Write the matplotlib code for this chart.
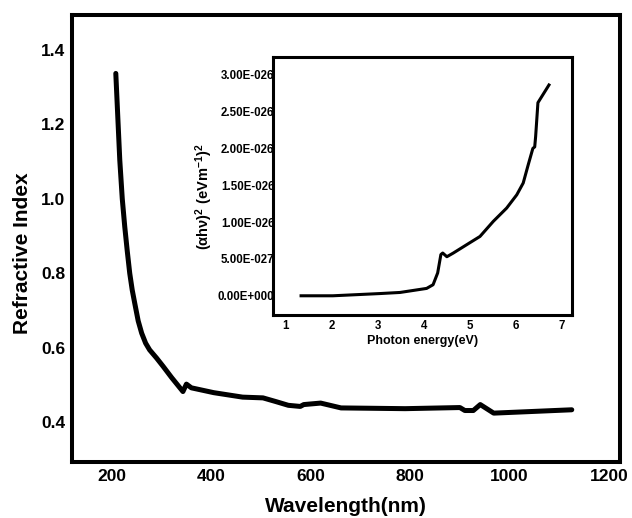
import matplotlib
matplotlib.use("Agg")
import matplotlib.pyplot as plt
from matplotlib.ticker import FixedLocator, FixedFormatter

plt.rcParams['font.family'] = ['Liberation Sans', 'DejaVu Sans']
plt.rcParams['font.weight'] = 'bold'
plt.rcParams['mathtext.fontset'] = 'custom'
plt.rcParams['mathtext.rm'] = 'Liberation Sans'
plt.rcParams['mathtext.it'] = 'Liberation Sans'
plt.rcParams['mathtext.bf'] = 'Liberation Sans:bold'

# main curve: refractive index vs wavelength
wavelength = [208, 212, 216, 221, 226, 231, 236, 241, 246, 253, 260, 268,
              276, 290, 303, 320, 343, 350, 360, 405, 463, 504, 530, 555,
              579, 586, 620, 661, 790, 900, 910, 927, 941, 968, 1125]
n_index = [1.337, 1.22, 1.104, 1.0, 0.925, 0.86, 0.80, 0.755, 0.72, 0.672,
           0.639, 0.612, 0.594, 0.572, 0.55, 0.52, 0.482, 0.502, 0.492,
           0.479, 0.467, 0.465, 0.455, 0.445, 0.442, 0.447, 0.451, 0.438,
           0.436, 0.439, 0.431, 0.431, 0.447, 0.424, 0.433]

# inset: (alpha h nu)^2 vs photon energy
energy = [1.33, 2.02, 3.04, 3.48, 4.06, 4.2, 4.3, 4.37, 4.41, 4.5, 4.64, 5.0,
          5.22, 5.51, 5.8, 6.02, 6.16, 6.27, 6.37, 6.41, 6.43, 6.48, 6.72]
ahv2 = [0.0, 0.0, 0.03e-26, 0.045e-26, 0.1e-26, 0.15e-26, 0.31e-26, 0.56e-26,
        0.58e-26, 0.53e-26, 0.58e-26, 0.72e-26, 0.805e-26, 1.01e-26,
        1.19e-26, 1.37e-26, 1.53e-26, 1.78e-26, 2.0e-26, 2.02e-26, 2.16e-26,
        2.62e-26, 2.86e-26]

main_xticks = [200, 400, 600, 800, 1000, 1200]
main_yticks = [0.4, 0.6, 0.8, 1.0, 1.2, 1.4]
inset_xticks = [1, 2, 3, 4, 5, 6, 7]
inset_yticks = [0, 0.5e-26, 1.0e-26, 1.5e-26, 2.0e-26, 2.5e-26, 3.0e-26]
inset_ylabels = ['0.00E+000', '5.00E-027', '1.00E-026', '1.50E-026',
                 '2.00E-026', '2.50E-026', '3.00E-026']

fig = plt.figure(figsize=(6.32, 5.18), dpi=100)
ax = fig.add_axes([0.114, 0.108, 0.867, 0.863])
ax.plot(wavelength, n_index, color='black', lw=3.6,
        solid_capstyle='round', solid_joinstyle='round')
ax.set_xlim(120, 1222)
ax.set_ylim(0.2925, 1.494)
ax.set_xticks(main_xticks)
ax.set_yticks(main_yticks)
ax.set_yticklabels(['%.1f' % v for v in main_yticks])
ax.tick_params(length=0, labelsize=12.5, pad=5)
for s in ax.spines.values():
    s.set_linewidth(2.9)
ax.set_xlabel('Wavelength(nm)', fontsize=15, fontweight='bold', va='bottom')
ax.xaxis.set_label_coords(0.5, -0.121)
ax.set_ylabel('Refractive Index', fontsize=15, fontweight='bold')
ax.yaxis.set_label_coords(-0.073, 0.468)

ins = fig.add_axes([0.432, 0.392, 0.473, 0.498])
ins.plot(energy, ahv2, color='black', lw=2.2, solid_joinstyle='round')
ins.set_xlim(0.72, 7.22)
ins.set_ylim(-0.26e-26, 3.24e-26)
ins.xaxis.set_major_locator(FixedLocator(inset_xticks))
ins.yaxis.set_major_locator(FixedLocator(inset_yticks))
ins.yaxis.set_major_formatter(FixedFormatter(inset_ylabels))
ins.tick_params(length=0, labelsize=8.3)
ins.tick_params(axis='y', pad=-1)
ins.tick_params(axis='x', pad=4)
for s in ins.spines.values():
    s.set_linewidth(2.2)
ins.set_xlabel('Photon energy(eV)', fontsize=9, fontweight='bold', va='top')
ins.xaxis.set_label_coords(0.5, -0.078)
ins.set_ylabel(r'$(\alpha h\nu)^{\mathbf{2}}\ \mathbf{(eVm^{-1})^{2}}$',
               fontsize=10.5)
ins.yaxis.set_label_coords(-0.194, 0.457)

fig.savefig('out.png', dpi=100)
